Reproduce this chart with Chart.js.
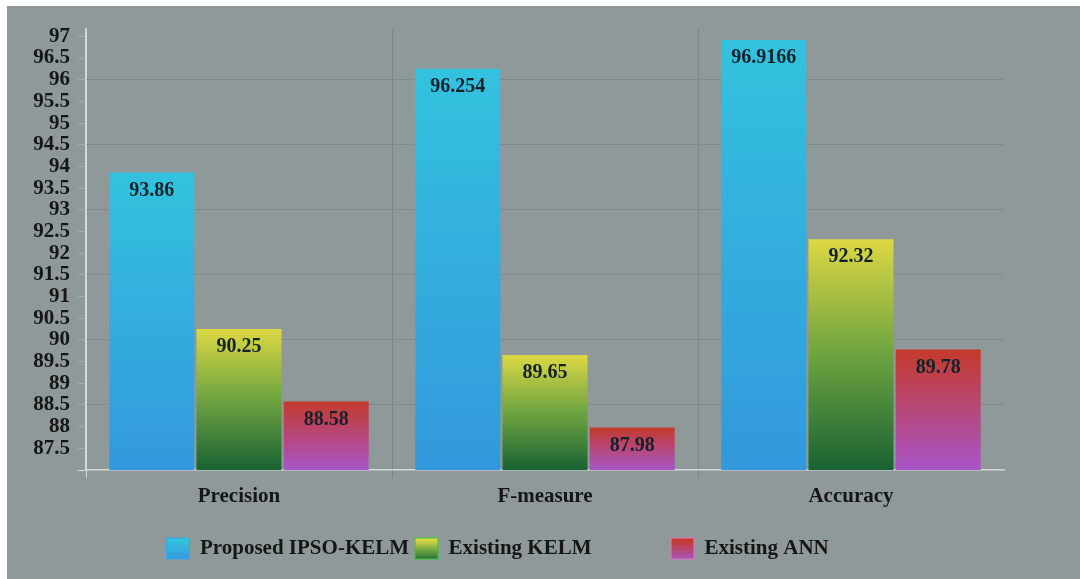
<!DOCTYPE html>
<html lang="en">
<head>
<meta charset="UTF-8">
<title>IPSO-KELM performance</title>
<script src="https://cdn.jsdelivr.net/npm/chart.js@4.4.0/dist/chart.umd.min.js"></script>
<style>
  body { margin: 0; background: #fff; }
  #wrap { position: absolute; left: 7px; top: 6px; width: 1073px; height: 573px; background: #8f9999; }
</style>
</head>
<body>
<div id="wrap"><canvas id="perfChart"></canvas></div>
<script>
const metrics = ['Precision', 'F-measure', 'Accuracy'];
const seriesNames = ['Proposed IPSO-KELM', 'Existing KELM', 'Existing ANN'];
const ipsoKelm = [93.86, 96.254, 96.9166];
const kelm = [90.25, 89.65, 92.32];
const ann = [88.58, 87.98, 89.78];

// colour stops of each series, bar top -> bar bottom
const barStops = [
    ['#33c2de', '#3398dc'],
    ['#dcd844', '#6ea440', '#1a6234'],
    ['#c43a2c', '#a855c8']
];
const legendEdge = ['#3aa6de', '#39c43c', '#e27ac8'];
// extra room after each legend entry
const legendPad = [0, 14, 3];

const axisLight = '#d3d9d9';
const sepColor = '#7b8686';
const gridColor = '#808b8b';
const textColor = '#161616';
const serif = "'Liberation Serif', 'Times New Roman', serif";

function makeGradient(ctx, top, bottom, stops) {
    const g = ctx.createLinearGradient(0, top, 0, bottom);
    stops.forEach((c, i) => g.addColorStop(i / (stops.length - 1), c));
    return g;
}

function barFill(context) {
    const chart = context.chart;
    const stops = barStops[context.datasetIndex];
    if (!chart.chartArea || context.type !== 'data') return stops[0];
    const top = chart.scales.y.getPixelForValue(context.raw);
    return makeGradient(chart.ctx, top, chart.chartArea.bottom, stops);
}

// numbers written inside the top of every bar
const valueLabels = {
    id: 'valueLabels',
    afterDatasetsDraw(chart) {
        const ctx = chart.ctx;
        ctx.save();
        ctx.font = 'bold 20px ' + serif;
        ctx.fillStyle = '#15212b';
        ctx.textAlign = 'center';
        ctx.textBaseline = 'middle';
        chart.data.datasets.forEach((ds, i) => {
            chart.getDatasetMeta(i).data.forEach((bar, j) => {
                ctx.fillText(String(ds.data[j]), bar.x, bar.y + 18);
            });
        });
        ctx.restore();
    }
};

const onGrid = v => v > 87 && Math.abs((v - 87) / 1.5 - Math.round((v - 87) / 1.5)) < 1e-6;

const perfChart = new Chart(document.getElementById('perfChart'), {
    type: 'bar',
    data: {
        labels: metrics,
        datasets: [ipsoKelm, kelm, ann].map((values, i) => ({
            label: seriesNames[i],
            data: values,
            backgroundColor: barFill,
            borderWidth: 0,
            categoryPercentage: 0.855,
            barPercentage: 0.975
        }))
    },
    options: {
        responsive: true,
        maintainAspectRatio: false,
        animation: false,
        events: [],
        layout: { padding: { top: 23, right: 76, bottom: 10, left: 0 } },
        plugins: {
            tooltip: { enabled: false },
            legend: {
                position: 'bottom',
                labels: {
                    boxWidth: 23,
                    boxHeight: 21,
                    padding: 6,
                    color: textColor,
                    font: { family: serif, size: 21, weight: 'bold' },
                    generateLabels: chart => seriesNames.map((name, i) => ({
                        text: name + '\u00a0'.repeat(legendPad[i]),
                        fillStyle: makeGradient(chart.ctx, chart.height - 39, chart.height - 18, barStops[i]),
                        strokeStyle: legendEdge[i],
                        lineWidth: 1,
                        fontColor: textColor,
                        hidden: false,
                        datasetIndex: i
                    }))
                }
            }
        },
        scales: {
            x: {
                grid: {
                    offset: true,
                    tickLength: 8,
                    color: c => c.index === 0 ? axisLight : (c.type === 'tick' ? sepColor : 'transparent')
                },
                border: { color: axisLight, width: 1.5 },
                ticks: { padding: 6, color: textColor, font: { family: serif, size: 21, weight: 'bold' } },
                afterFit: s => { s.height = 62; }
            },
            y: {
                min: 87,
                max: 97.17,
                grid: {
                    tickLength: 8,
                    color: c => onGrid(c.tick.value) ? gridColor : 'transparent',
                    tickColor: c => c.tick.value === 87 ? axisLight : 'rgba(190,198,198,0.45)'
                },
                border: { color: axisLight, width: 1.5 },
                ticks: {
                    stepSize: 0.5,
                    includeBounds: false,
                    autoSkip: false,
                    padding: 8,
                    color: textColor,
                    font: { family: serif, size: 21, weight: 'bold', lineHeight: 1 },
                    callback: v => v === 87 ? '' : v
                },
                afterFit: s => { s.width = 79; }
            }
        }
    },
    plugins: [valueLabels]
});
</script>
</body>
</html>
